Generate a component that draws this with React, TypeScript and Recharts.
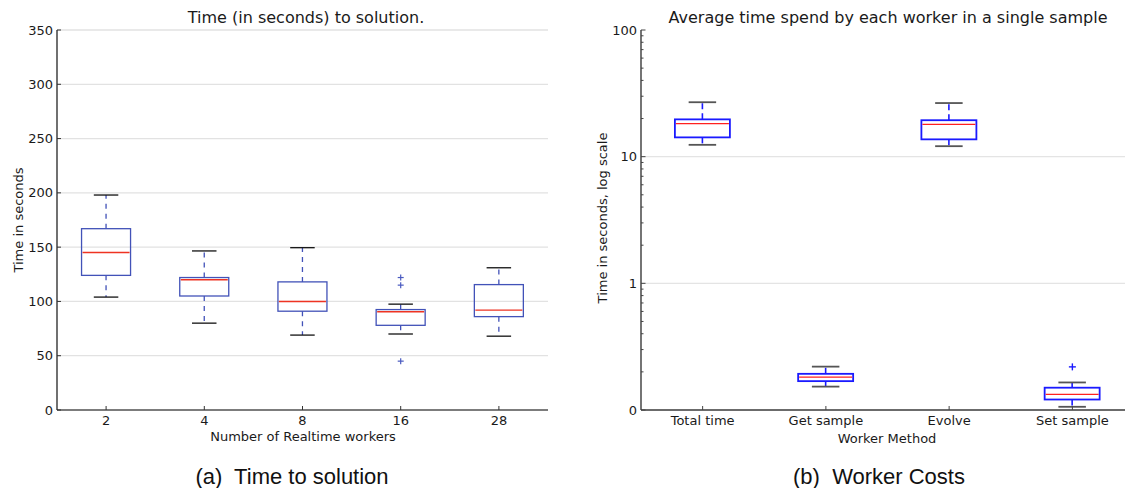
import React from 'react';
import {
  ComposedChart,
  Bar,
  Scatter,
  XAxis,
  YAxis,
  CartesianGrid,
  ReferenceLine,
} from 'recharts';

// ---- Panel (a): time to solution by number of realtime workers ----
const WORKERS = ['2', '4', '8', '16', '28'];
const SOLVE_WHISKER_LOW = [104, 80, 69, 70, 68];
const SOLVE_Q1 = [124, 105, 91, 78, 86];
const SOLVE_MEDIAN = [145, 120, 100, 90.5, 92];
const SOLVE_Q3 = [167, 122, 118, 92.5, 115.5];
const SOLVE_WHISKER_HIGH = [198, 146.5, 149.5, 97.5, 131];
const SOLVE_OUTLIERS: number[][] = [[], [], [], [122, 115, 45], []];
const SOLVE_TICKS = [0, 50, 100, 150, 200, 250, 300, 350];

// ---- Panel (b): average time per worker method (log scale) ----
const METHODS = ['Total time', 'Get sample', 'Evolve', 'Set sample'];
const COST_WHISKER_LOW = [12.4, 0.153, 12.1, 0.106];
const COST_Q1 = [14.2, 0.169, 13.7, 0.121];
const COST_MEDIAN = [18.2, 0.182, 18.0, 0.133];
const COST_Q3 = [19.7, 0.193, 19.4, 0.15];
const COST_WHISKER_HIGH = [26.9, 0.22, 26.5, 0.165];
const COST_OUTLIERS: number[][] = [[], [], [], [0.219]];
const COST_TICKS = [0.1, 1, 10, 100];
const COST_TICK_LABELS = ['0', '1', '10', '100'];
const COST_MINOR_TICKS = [
  0.2, 0.3, 0.4, 0.5, 0.6, 0.7, 0.8, 0.9,
  2, 3, 4, 5, 6, 7, 8, 9,
  20, 30, 40, 50, 60, 70, 80, 90,
];

type BoxRow = {
  name: string;
  low: number;
  q1: number;
  median: number;
  q3: number;
  high: number;
  outliers: number[];
};

const buildRows = (
  names: string[],
  low: number[],
  q1: number[],
  median: number[],
  q3: number[],
  high: number[],
  outliers: number[][],
): BoxRow[] =>
  names.map((name, i) => ({
    name,
    low: low[i],
    q1: q1[i],
    median: median[i],
    q3: q3[i],
    high: high[i],
    outliers: outliers[i],
  }));

const solveRows = buildRows(
  WORKERS, SOLVE_WHISKER_LOW, SOLVE_Q1, SOLVE_MEDIAN, SOLVE_Q3, SOLVE_WHISKER_HIGH, SOLVE_OUTLIERS,
);
const costRows = buildRows(
  METHODS, COST_WHISKER_LOW, COST_Q1, COST_MEDIAN, COST_Q3, COST_WHISKER_HIGH, COST_OUTLIERS,
);

type BoxStyle = {
  box: string;
  boxWidth: number;
  whisker: string;
  whiskerWidth: number;
  dash: string;
  cap: string;
  capWidth: number;
  median: string;
  medianWidth: number;
  flier: string;
  flierWidth: number;
  flierSize: number;
};

const leftStyle: BoxStyle = {
  box: '#4252b8',
  boxWidth: 1.3,
  whisker: '#4252b8',
  whiskerWidth: 1.3,
  dash: '5 5',
  cap: '#111111',
  capWidth: 1.3,
  median: '#ee3322',
  medianWidth: 1.4,
  flier: '#4a5ac0',
  flierWidth: 1.2,
  flierSize: 3,
};

const rightStyle: BoxStyle = {
  box: '#1a1aff',
  boxWidth: 1.8,
  whisker: '#1a1aff',
  whiskerWidth: 1.6,
  dash: '6 4',
  cap: '#555555',
  capWidth: 1.8,
  median: '#ff2020',
  medianWidth: 1.3,
  flier: '#1a1aff',
  flierWidth: 1.4,
  flierSize: 3.5,
};

// Bar rectangles for range values [a, b] -> pixel extent
const extent = (p: any) => {
  const y = Number(p.y);
  const h = Number(p.height);
  return {
    x: Number(p.x),
    w: Number(p.width),
    top: Math.min(y, y + h),
    bottom: Math.max(y, y + h),
  };
};

// The box-plot layers; each range series sits on its own category axis so
// every layer spans the same slot within the band.
const boxSeries = (s: BoxStyle, yAxisId: string, flierSlots: number) => {
  const items: React.ReactElement[] = [
    <Bar
      key="whisker-low"
      xAxisId="wlo"
      yAxisId={yAxisId}
      dataKey={(d: BoxRow) => [d.low, d.q1]}
      isAnimationActive={false}
      shape={(p: any) => {
        const e = extent(p);
        const cx = e.x + e.w / 2;
        return (
          <g>
            <line x1={cx} x2={cx} y1={e.top} y2={e.bottom} stroke={s.whisker}
              strokeWidth={s.whiskerWidth} strokeDasharray={s.dash} />
            <line x1={cx - e.w / 4} x2={cx + e.w / 4} y1={e.bottom} y2={e.bottom}
              stroke={s.cap} strokeWidth={s.capWidth} />
          </g>
        );
      }}
    />,
    <Bar
      key="whisker-high"
      xAxisId="whi"
      yAxisId={yAxisId}
      dataKey={(d: BoxRow) => [d.q3, d.high]}
      isAnimationActive={false}
      shape={(p: any) => {
        const e = extent(p);
        const cx = e.x + e.w / 2;
        return (
          <g>
            <line x1={cx} x2={cx} y1={e.bottom} y2={e.top} stroke={s.whisker}
              strokeWidth={s.whiskerWidth} strokeDasharray={s.dash} />
            <line x1={cx - e.w / 4} x2={cx + e.w / 4} y1={e.top} y2={e.top}
              stroke={s.cap} strokeWidth={s.capWidth} />
          </g>
        );
      }}
    />,
    <Bar
      key="box"
      xAxisId="box"
      yAxisId={yAxisId}
      dataKey={(d: BoxRow) => [d.q1, d.q3]}
      isAnimationActive={false}
      shape={(p: any) => {
        const e = extent(p);
        return (
          <rect x={e.x} y={e.top} width={e.w} height={e.bottom - e.top}
            fill="none" stroke={s.box} strokeWidth={s.boxWidth} />
        );
      }}
    />,
    <Bar
      key="median"
      xAxisId="med"
      yAxisId={yAxisId}
      dataKey={(d: BoxRow) => [d.q1, d.median]}
      isAnimationActive={false}
      shape={(p: any) => {
        const e = extent(p);
        return (
          <line x1={e.x + 1} x2={e.x + e.w - 1} y1={e.top} y2={e.top}
            stroke={s.median} strokeWidth={s.medianWidth} />
        );
      }}
    />,
  ];
  for (let k = 0; k < flierSlots; k++) {
    items.push(
      <Scatter
        key={`flier-${k}`}
        xAxisId="box"
        yAxisId={yAxisId}
        dataKey={(d: BoxRow) => d.outliers[k]}
        isAnimationActive={false}
        shape={(p: any) => {
          const v = p?.payload?.outliers?.[k];
          if (v === undefined || !Number.isFinite(Number(p.cy))) return <g />;
          const r = s.flierSize;
          return (
            <g>
              <line x1={p.cx - r} x2={p.cx + r} y1={p.cy} y2={p.cy} stroke={s.flier} strokeWidth={s.flierWidth} />
              <line x1={p.cx} x2={p.cx} y1={p.cy - r} y2={p.cy + r} stroke={s.flier} strokeWidth={s.flierWidth} />
            </g>
          );
        }}
      />,
    );
  }
  return items;
};

const FONT = '"DejaVu Sans", Verdana, sans-serif';
const tickText: React.CSSProperties = { fontFamily: FONT, fontSize: 13, fill: '#1a1a1a' };

const makeBottomTick = (color: string) => (p: any) => (
  <g>
    <line x1={p.x} x2={p.x} y1={p.y} y2={p.y - 4} stroke={color} strokeWidth={1} />
    <text x={p.x} y={p.y + 15} textAnchor="middle" style={tickText}>
      {p.payload.value}
    </text>
  </g>
);

const makeTopTick = (color: string) => (p: any) => (
  <line x1={p.x} x2={p.x} y1={p.y} y2={p.y + 4} stroke={color} strokeWidth={1} />
);

const SolveLeftTick = (p: any) => (
  <g>
    <line x1={p.x} x2={p.x + 4} y1={p.y} y2={p.y} stroke="#333" strokeWidth={1} />
    <text x={p.x - 4} y={p.y} dy="0.35em" textAnchor="end" style={tickText}>
      {p.payload.value}
    </text>
  </g>
);

const SolveRightTick = (p: any) => (
  <line x1={p.x} x2={p.x - 4} y1={p.y} y2={p.y} stroke="#555" strokeWidth={1.2} />
);

const CostLeftTick = (p: any) => {
  const i = COST_TICKS.indexOf(p.payload.value);
  if (i < 0) {
    return <line x1={p.x} x2={p.x + 2.5} y1={p.y} y2={p.y} stroke="#444" strokeWidth={1} />;
  }
  return (
    <g>
      <line x1={p.x} x2={p.x + 4.5} y1={p.y} y2={p.y} stroke="#444" strokeWidth={1} />
      <text x={p.x - 4} y={p.y} dy="0.35em" textAnchor="end" style={tickText}>
        {COST_TICK_LABELS[i]}
      </text>
    </g>
  );
};

const costAllTicks = [...COST_TICKS, ...COST_MINOR_TICKS].sort((a, b) => a - b);

const SolveChart = () => {
  const axisColor = '#111111';
  return (
    <ComposedChart
      width={560}
      height={488}
      data={solveRows}
      margin={{ top: 30, right: 12, bottom: 48, left: 0 }}
      barCategoryGap="25%"
      barGap={0}
    >
      <CartesianGrid vertical={false} stroke="#e2e2e2" strokeWidth={1.3} xAxisId="box" yAxisId="v" />
      <XAxis xAxisId="box" dataKey="name" type="category" orientation="bottom" height={30}
        interval={0} tickLine={false} tickSize={0} tickMargin={0}
        axisLine={{ stroke: axisColor, strokeWidth: 1.2 }} tick={makeBottomTick('#333')} />
      <XAxis xAxisId="med" dataKey="name" type="category" orientation="top" height={0}
        interval={0} tickLine={false} tickSize={0} tickMargin={0}
        axisLine={{ stroke: axisColor, strokeWidth: 1.2 }} tick={makeTopTick('#333')} />
      <XAxis xAxisId="wlo" dataKey="name" type="category" hide />
      <XAxis xAxisId="whi" dataKey="name" type="category" hide />
      <YAxis yAxisId="v" type="number" orientation="left" width={57} domain={[0, 350]}
        ticks={SOLVE_TICKS} interval={0} tickLine={false} tickSize={0} tickMargin={0}
        axisLine={{ stroke: axisColor, strokeWidth: 1.2 }} tick={SolveLeftTick} />
      <YAxis yAxisId="r" type="number" orientation="right" width={0} domain={[0, 350]}
        ticks={SOLVE_TICKS} interval={0} tickLine={false} tickSize={0} tickMargin={0}
        axisLine={{ stroke: axisColor, strokeWidth: 1.2 }} tick={SolveRightTick} />
      {boxSeries(leftStyle, 'v', 3)}
    </ComposedChart>
  );
};

const CostChart = () => {
  const axisColor = '#3a3a3a';
  return (
    <ComposedChart
      width={560}
      height={488}
      data={costRows}
      margin={{ top: 30, right: 6, bottom: 48, left: 0 }}
      barCategoryGap="27.5%"
      barGap={0}
    >
      <ReferenceLine yAxisId="v" xAxisId="box" y={10} stroke="#e4e4e4" strokeWidth={1.2} />
      <ReferenceLine yAxisId="v" xAxisId="box" y={1} stroke="#e4e4e4" strokeWidth={1.2} />
      <XAxis xAxisId="box" dataKey="name" type="category" orientation="bottom" height={30}
        interval={0} tickLine={false} tickSize={0} tickMargin={0}
        axisLine={{ stroke: axisColor, strokeWidth: 1.4 }} tick={makeBottomTick('#444')} />
      <XAxis xAxisId="med" dataKey="name" type="category" orientation="top" height={0}
        interval={0} tickLine={false} tickSize={0} tickMargin={0}
        axisLine={{ stroke: axisColor, strokeWidth: 1.4 }} tick={makeTopTick('#444')} />
      <XAxis xAxisId="wlo" dataKey="name" type="category" hide />
      <XAxis xAxisId="whi" dataKey="name" type="category" hide />
      <YAxis yAxisId="v" type="number" scale="log" orientation="left" width={61}
        domain={[0.1, 100]} allowDataOverflow ticks={costAllTicks} interval={0}
        tickLine={false} tickSize={0} tickMargin={0}
        axisLine={{ stroke: axisColor, strokeWidth: 1.4 }} tick={CostLeftTick} />
      {boxSeries(rightStyle, 'v', 1)}
    </ComposedChart>
  );
};

const textStyle: React.CSSProperties = { fontFamily: FONT, fill: '#1a1a1a' };
const captionStyle: React.CSSProperties = {
  fontFamily: '"Liberation Sans", Arial, Helvetica, sans-serif',
  fontSize: 22,
  fill: '#111',
  whiteSpace: 'pre',
};

export default function App() {
  return (
    <div
      style={{
        position: 'absolute',
        left: 0,
        top: 0,
        width: 1125,
        height: 488,
        overflow: 'hidden',
        background: '#ffffff',
      }}
    >
      <div style={{ position: 'absolute', left: 0, top: 0 }}>
        <SolveChart />
      </div>
      <div style={{ position: 'absolute', left: 580, top: 0 }}>
        <CostChart />
      </div>
      <svg
        width={1125}
        height={488}
        style={{ position: 'absolute', left: 0, top: 0, pointerEvents: 'none' }}
      >
        <text x={306} y={23} textAnchor="middle" style={{ ...textStyle, fontSize: 16 }}>
          Time (in seconds) to solution.
        </text>
        <text x={303} y={441} textAnchor="middle" style={{ ...textStyle, fontSize: 13 }}>
          Number of Realtime workers
        </text>
        <text x={23} y={220} textAnchor="middle" transform="rotate(-90 23 220)"
          style={{ ...textStyle, fontSize: 13 }}>
          Time in seconds
        </text>
        <text x={888} y={23} textAnchor="middle" style={{ ...textStyle, fontSize: 16 }}>
          Average time spend by each worker in a single sample
        </text>
        <text x={887} y={443} textAnchor="middle" style={{ ...textStyle, fontSize: 13 }}>
          Worker Method
        </text>
        <text x={607} y={218} textAnchor="middle" transform="rotate(-90 607 218)"
          style={{ ...textStyle, fontSize: 13 }}>
          Time in seconds, log scale
        </text>
        <text x={292} y={484} textAnchor="middle" style={captionStyle}>
          {'(a)  Time to solution'}
        </text>
        <text x={879} y={484} textAnchor="middle" style={captionStyle}>
          {'(b)  Worker Costs'}
        </text>
      </svg>
    </div>
  );
}
